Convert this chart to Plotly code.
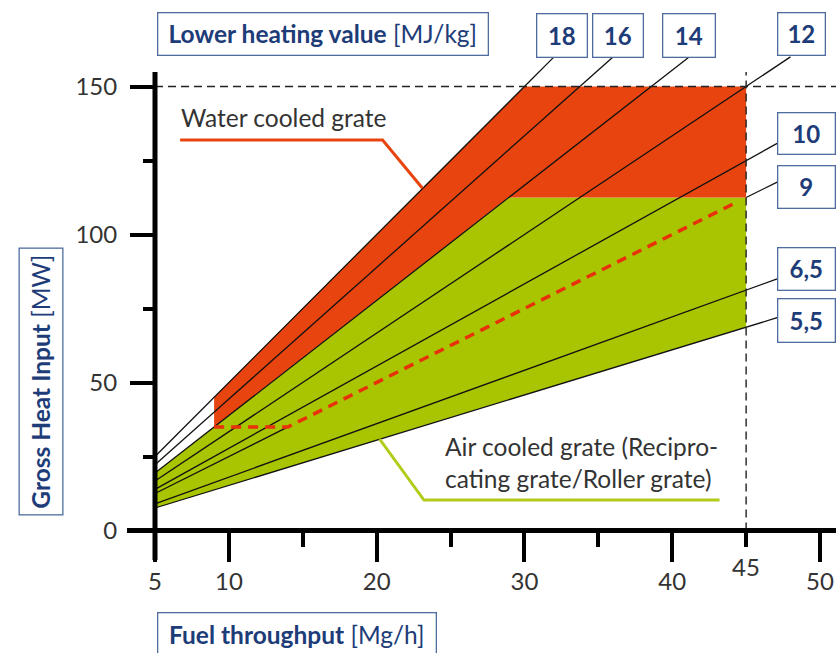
import plotly.graph_objects as go

# ---------------- data ----------------
lhv_labels = ["18", "16", "14", "12", "10", "9", "6,5", "5,5"]
line_x_start = [5, 5, 5, 5, 5, 5, 5, 5]
line_y_start = [25.0, 22.2, 19.4, 16.7, 13.9, 12.5, 9.0, 7.6]
line_x_end = [32.0, 36.2, 41.1, 48.0, 47.1, 47.1, 47.1, 47.1]
line_y_end = [160.0, 160.9, 159.8, 160.0, 130.8, 117.7, 85.0, 71.9]

# LHV 9 line: black only outside the red dashed limit
line9_x = [5, 14, None, 45, 47.1]
line9_y = [12.5, 35, None, 112.5, 117.7]

# water cooled grate region (red)
water_x = [9, 9, 30, 45, 45, 28.9, 9]
water_y = [35, 45, 150, 150, 112.5, 112.5, 35]

# air cooled grate region (green)
air_x = [5, 5, 28.9, 45, 45, 5]
air_y = [7.6, 19.4, 112.5, 112.5, 68.75, 7.6]

# red dashed limit for air cooled grate
limit_x = [9, 14, 44.4]
limit_y = [35, 35, 111]

# guide lines
max_heat = 150
max_throughput = 45

# label leader lines
water_lead_x = [6.7, 20.4, 23.1]
water_lead_y = [131.9, 131.9, 115.6]
air_lead_x = [20.2, 23.2, 43.2]
air_lead_y = [30.9, 10.3, 10.3]

x_tickvals = [5, 10, 20, 30, 40, 50]
x_minor = [15, 25, 35, 45]
y_tickvals = [0, 50, 100, 150]
y_minor = [25, 75, 125]

# ---------------- layout geometry (pixels) ----------------
W, H = 836, 653
L, R, T, B = 127, 836, 50, 565
X0PX, XS = 155.0, 14.778   # x=5 at px 155
Y0PX, YS = 530.5, 2.96     # y=0 at px 530.5


def px2x(p):
    return 5 + (p - X0PX) / XS


def px2y(p):
    return (Y0PX - p) / YS


def px2px(p):
    return (p - L) / (R - L)


def px2py(p):
    return (B - p) / (B - T)


xr = [px2x(L), px2x(R)]
yr = [px2y(B), px2y(T)]

RED = "#E8440F"
GREEN = "#A9C400"
NAVY = "#1D3C78"
BOXLINE = "#4E6D9E"
TXT = "#333333"
FONT = "Lato"

fig = go.Figure()

fig.add_trace(go.Scatter(x=air_x, y=air_y, fill="toself", fillcolor=GREEN,
                         line=dict(width=0), mode="lines", hoverinfo="skip"))
fig.add_trace(go.Scatter(x=water_x, y=water_y, fill="toself", fillcolor=RED,
                         line=dict(width=0), mode="lines", hoverinfo="skip"))

for i, lab in enumerate(lhv_labels):
    if lab == "9":
        xs, ys = line9_x, line9_y
    else:
        xs = [line_x_start[i], line_x_end[i]]
        ys = [line_y_start[i], line_y_end[i]]
    fig.add_trace(go.Scatter(x=xs, y=ys, mode="lines",
                             line=dict(color="#111111", width=1.3),
                             hoverinfo="skip"))

fig.add_trace(go.Scatter(x=limit_x, y=limit_y, mode="lines",
                         line=dict(color="#E8300A", width=3.5, dash="10px,7px"),
                         hoverinfo="skip"))

# dashed guides
fig.add_trace(go.Scatter(x=[5, xr[1]], y=[max_heat, max_heat], mode="lines",
                         line=dict(color="#222222", width=1.4, dash="8px,5px"),
                         hoverinfo="skip"))
fig.add_trace(go.Scatter(x=[max_throughput, max_throughput], y=[0, px2y(72)],
                         mode="lines",
                         line=dict(color="#222222", width=1.4, dash="8px,5px"),
                         hoverinfo="skip"))

fig.add_trace(go.Scatter(x=water_lead_x, y=water_lead_y, mode="lines",
                         line=dict(color=RED, width=3), hoverinfo="skip"))
fig.add_trace(go.Scatter(x=air_lead_x, y=air_lead_y, mode="lines",
                         line=dict(color="#B3CC1A", width=3), hoverinfo="skip"))

# axis lines
fig.add_shape(type="line", x0=5, x1=5, y0=px2y(560), y1=px2y(72),
              line=dict(color="black", width=5))
fig.add_shape(type="line", x0=xr[0], x1=xr[1], y0=0, y1=0,
              line=dict(color="black", width=5))

ann = []


def box(text, left, top, right, bottom, size=22, angle=0):
    w = right - left
    h = bottom - top
    if angle:
        bw, bh = h - 2, w - 2
    else:
        bw, bh = w - 2, h - 2
    ann.append(dict(text=text, xref="paper", yref="paper",
                    x=px2px((left + right) / 2), y=px2py((top + bottom) / 2),
                    xanchor="center", yanchor="middle", showarrow=False,
                    width=bw, height=bh, textangle=angle,
                    bgcolor="white", bordercolor=BOXLINE, borderwidth=1.3,
                    borderpad=0,
                    font=dict(family=FONT, size=size, color=NAVY)))


box("<b>Lower heating value</b> [MJ/kg]", 157, 13, 488, 56, size=24.5)
box("<b>Fuel throughput</b> [Mg/h]", 157, 612, 436, 656, size=24.5)
box("<b>Gross Heat Input</b> [MW]", 19, 248, 63, 515, size=24.5, angle=-90)

num_boxes = {
    "18": (536, 13, 587, 57),
    "16": (592, 13, 643, 57),
    "14": (662, 13, 715, 57),
    "12": (777, 13, 825, 56),
    "10": (777, 113, 835, 155),
    "9": (777, 165, 835, 208),
    "6,5": (777, 247, 835, 290),
    "5,5": (777, 298, 835, 342),
}
for lab in lhv_labels:
    l, t, r, b = num_boxes[lab]
    box("<b>%s</b>" % lab, l, t, r, b, size=24)

ann.append(dict(text="Water cooled grate", xref="paper", yref="paper",
                x=px2px(179), y=px2py(118), xanchor="left", yanchor="middle",
                showarrow=False, font=dict(family=FONT, size=24.5, color=TXT)))
ann.append(dict(text="Air cooled grate (Recipro-<br>cating grate/Roller grate)",
                xref="paper", yref="paper", x=px2px(443), y=px2py(462),
                xanchor="left", yanchor="middle", align="left", showarrow=False,
                font=dict(family=FONT, size=24.5, color=TXT)))
ann.append(dict(text="45", xref="paper", yref="paper", x=px2px(746),
                y=px2py(566), xanchor="center", yanchor="middle",
                showarrow=False, font=dict(family=FONT, size=24, color=TXT)))

fig.update_layout(
    width=W, height=H,
    margin=dict(l=L, r=W - R, t=T, b=H - B, pad=0),
    paper_bgcolor="white", plot_bgcolor="white",
    showlegend=False,
    annotations=ann,
    xaxis=dict(range=xr, anchor="free", position=(B - Y0PX) / (B - T),
               showline=False, showgrid=False, zeroline=False,
               tickmode="array", tickvals=x_tickvals,
               ticktext=[str(v) for v in x_tickvals],
               ticks="outside", ticklen=30, tickwidth=4, tickcolor="black",
               tickfont=dict(family=FONT, size=24, color=TXT),
               minor=dict(tickmode="array", tickvals=x_minor, ticks="outside",
                          ticklen=15, tickwidth=3.5, tickcolor="black",
                          showgrid=False),
               fixedrange=True),
    yaxis=dict(range=yr, anchor="free", position=(X0PX - L) / (R - L),
               showline=False, showgrid=False, zeroline=False,
               tickmode="array", tickvals=y_tickvals,
               ticktext=[str(v) for v in y_tickvals],
               ticks="outside", ticklen=25, tickwidth=4, tickcolor="black",
               ticklabelstandoff=8,
               tickfont=dict(family=FONT, size=24, color=TXT),
               minor=dict(tickmode="array", tickvals=y_minor, ticks="outside",
                          ticklen=12, tickwidth=3.5, tickcolor="black",
                          showgrid=False),
               fixedrange=True),
)

fig.write_html("out.html",
               config={"displayModeBar": False},
               post_script="document.body.style.margin='0';"
                           "document.body.style.overflow='hidden';")
